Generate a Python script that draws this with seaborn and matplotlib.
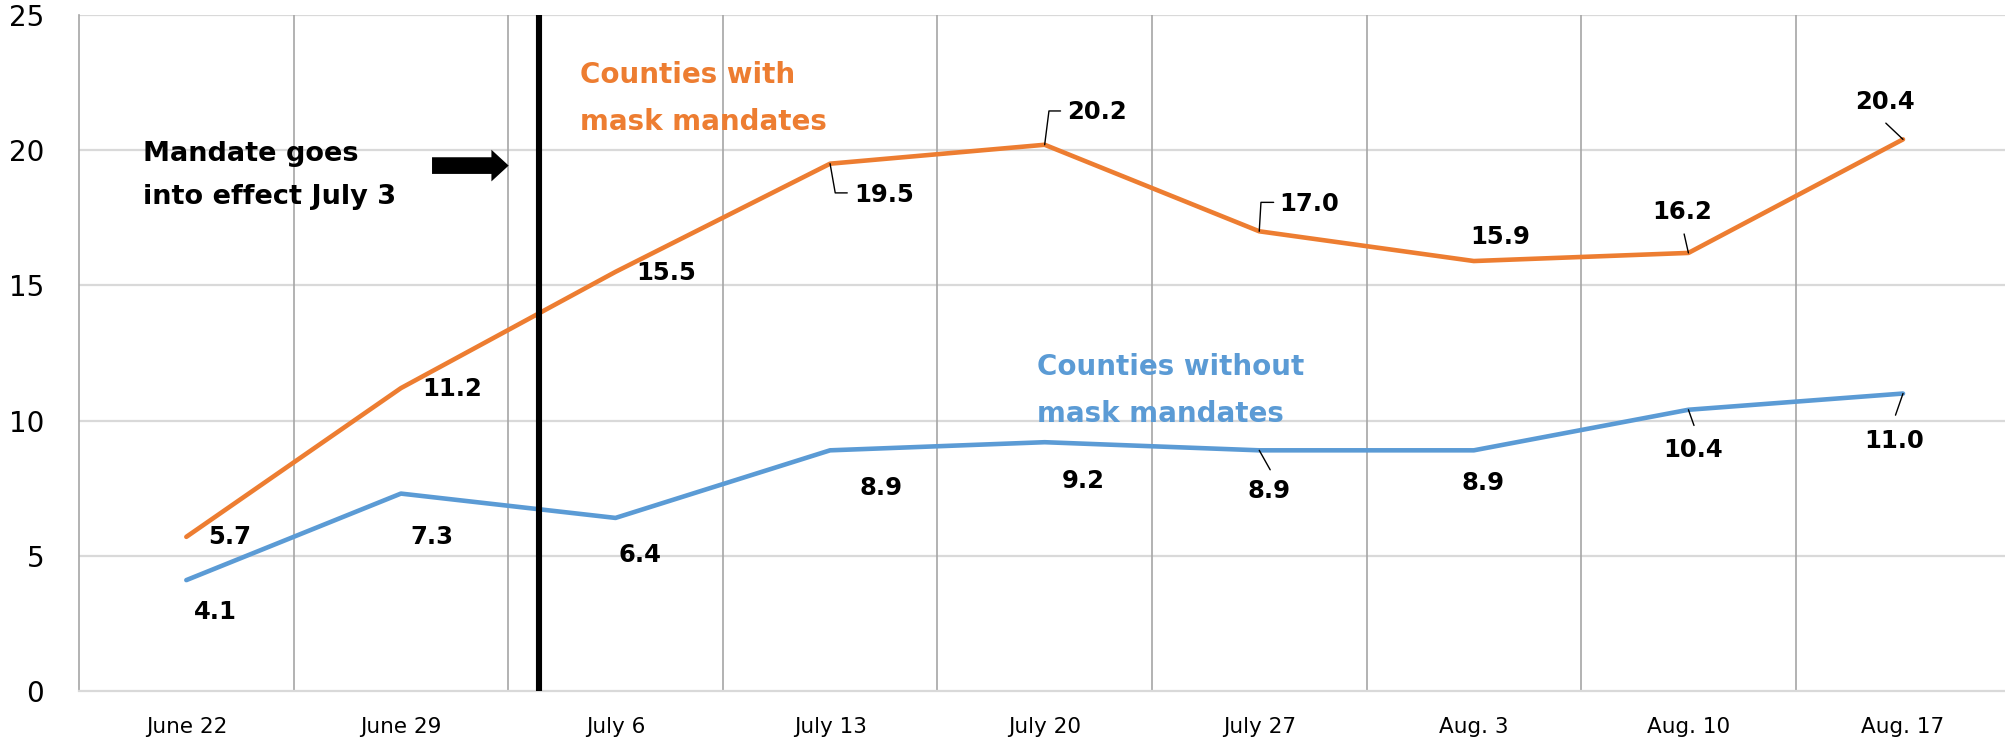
import matplotlib
matplotlib.use("Agg")
import matplotlib.pyplot as plt
import seaborn as sns
import pandas as pd

weeks = ["June 22", "June 29", "July 6", "July 13", "July 20", "July 27", "Aug. 3", "Aug. 10", "Aug. 17"]
with_mandate = [5.7, 11.2, 15.5, 19.5, 20.2, 17.0, 15.9, 16.2, 20.4]
without_mandate = [4.1, 7.3, 6.4, 8.9, 9.2, 8.9, 8.9, 10.4, 11.0]
series_names = ["Counties with\nmask mandates", "Counties without\nmask mandates"]
y_ticks = [0, 5, 10, 15, 20, 25]

ORANGE = "#ED7D31"
BLUE = "#5B9BD5"

df = pd.DataFrame({
    "week": weeks * 2,
    "value": with_mandate + without_mandate,
    "series": [series_names[0]] * len(weeks) + [series_names[1]] * len(weeks),
})

sns.set_theme(style="white")
plt.rcParams["font.family"] = ["DejaVu Sans"]

fig = plt.figure(figsize=(20.06, 7.41), dpi=100)
ax = fig.add_axes([0.0394, 0.0675, 0.9606, 0.9123])

# grid
for y in y_ticks[1:]:
    ax.axhline(y, color="#d9d9d9", lw=1.6, zorder=0)
for i in range(len(weeks) - 1):
    ax.axvline(i + 0.5, color="#a6a6a6", lw=1.2, zorder=0)

sns.lineplot(data=df, x="week", y="value", hue="series",
             palette={series_names[0]: ORANGE, series_names[1]: BLUE},
             linewidth=3.3, legend=False, ax=ax, zorder=3, sort=False)

ax.set_xlim(-0.5, 8.48)
ax.set_ylim(0, 25)
ax.set_yticks(y_ticks)
ax.set_xlabel("")
ax.set_ylabel("")
ax.tick_params(axis="x", labelsize=15.5, pad=19, length=0, colors="black")
ax.tick_params(axis="y", labelsize=20, pad=25, length=0, colors="black")
for s in ["top", "right"]:
    ax.spines[s].set_visible(False)
ax.spines["left"].set_color("#a6a6a6")
ax.spines["left"].set_linewidth(1.2)
ax.spines["bottom"].set_color("#d9d9d9")
ax.spines["bottom"].set_linewidth(1.6)

# mandate line and annotation
ax.axvline(1.645, color="black", lw=4.4, zorder=4)
ax.annotate("", xy=(1.502, 19.43), xytext=(1.145, 19.43),
            arrowprops=dict(arrowstyle="simple,head_length=0.62,head_width=1.14,tail_width=0.6",
                            mutation_scale=20, color="black", lw=0,
                            shrinkA=0, shrinkB=0))
ax.text(-0.203, 19.05, "Mandate goes\ninto effect July 3", fontsize=19.5, fontweight="bold",
        ha="left", va="center", linespacing=1.85, color="black")

# series labels
ax.text(1.835, 21.9, series_names[0], color=ORANGE, fontsize=20, fontweight="bold",
        ha="left", va="center", linespacing=1.85)
ax.text(3.966, 11.12, series_names[1], color=BLUE, fontsize=20, fontweight="bold",
        ha="left", va="center", linespacing=1.85)

# data labels: (dx, dy) offsets of label centres from each point, optional leader points
orange_lab = [(0.20, -0.02), (0.237, -0.04), (0.235, -0.05), (0.25, -1.16), (0.245, 1.2),
              (0.233, 1.01), (0.123, 0.9), (-0.031, 1.53), (-0.084, 1.39)]
blue_lab = [(0.134, -1.19), (0.146, -1.59), (0.114, -1.37), (0.236, -1.38), (0.18, -1.42),
            (0.047, -1.49), (0.044, -1.22), (0.02, -1.49), (-0.043, -1.74)]
orange_lead = {3: [(0.0, 0.0), (0.024, -1.08), (0.08, -1.08)],
               4: [(0.0, 0.0), (0.02, 1.25), (0.074, 1.25)],
               5: [(0.0, 0.0), (0.008, 1.07), (0.067, 1.07)],
               7: [(0.0, 0.0), (-0.02, 0.7)],
               8: [(0.0, 0.0), (-0.08, 0.6)]}
blue_lead = {5: [(0.0, 0.0), (0.051, -0.72)],
             7: [(0.0, 0.0), (0.026, -0.58)],
             8: [(0.0, 0.0), (-0.035, -0.8)]}

for vals, labs, leads in [(with_mandate, orange_lab, orange_lead),
                          (without_mandate, blue_lab, blue_lead)]:
    for i, v in enumerate(vals):
        dx, dy = labs[i]
        ax.text(i + dx, v + dy, f"{v:.1f}", fontsize=17.5, fontweight="bold",
                ha="center", va="center", color="black", zorder=5)
        if i in leads:
            pts = leads[i]
            ax.plot([i + p[0] for p in pts], [v + p[1] for p in pts],
                    color="black", lw=1.0, zorder=4)

fig.savefig("out.png", dpi=100)
